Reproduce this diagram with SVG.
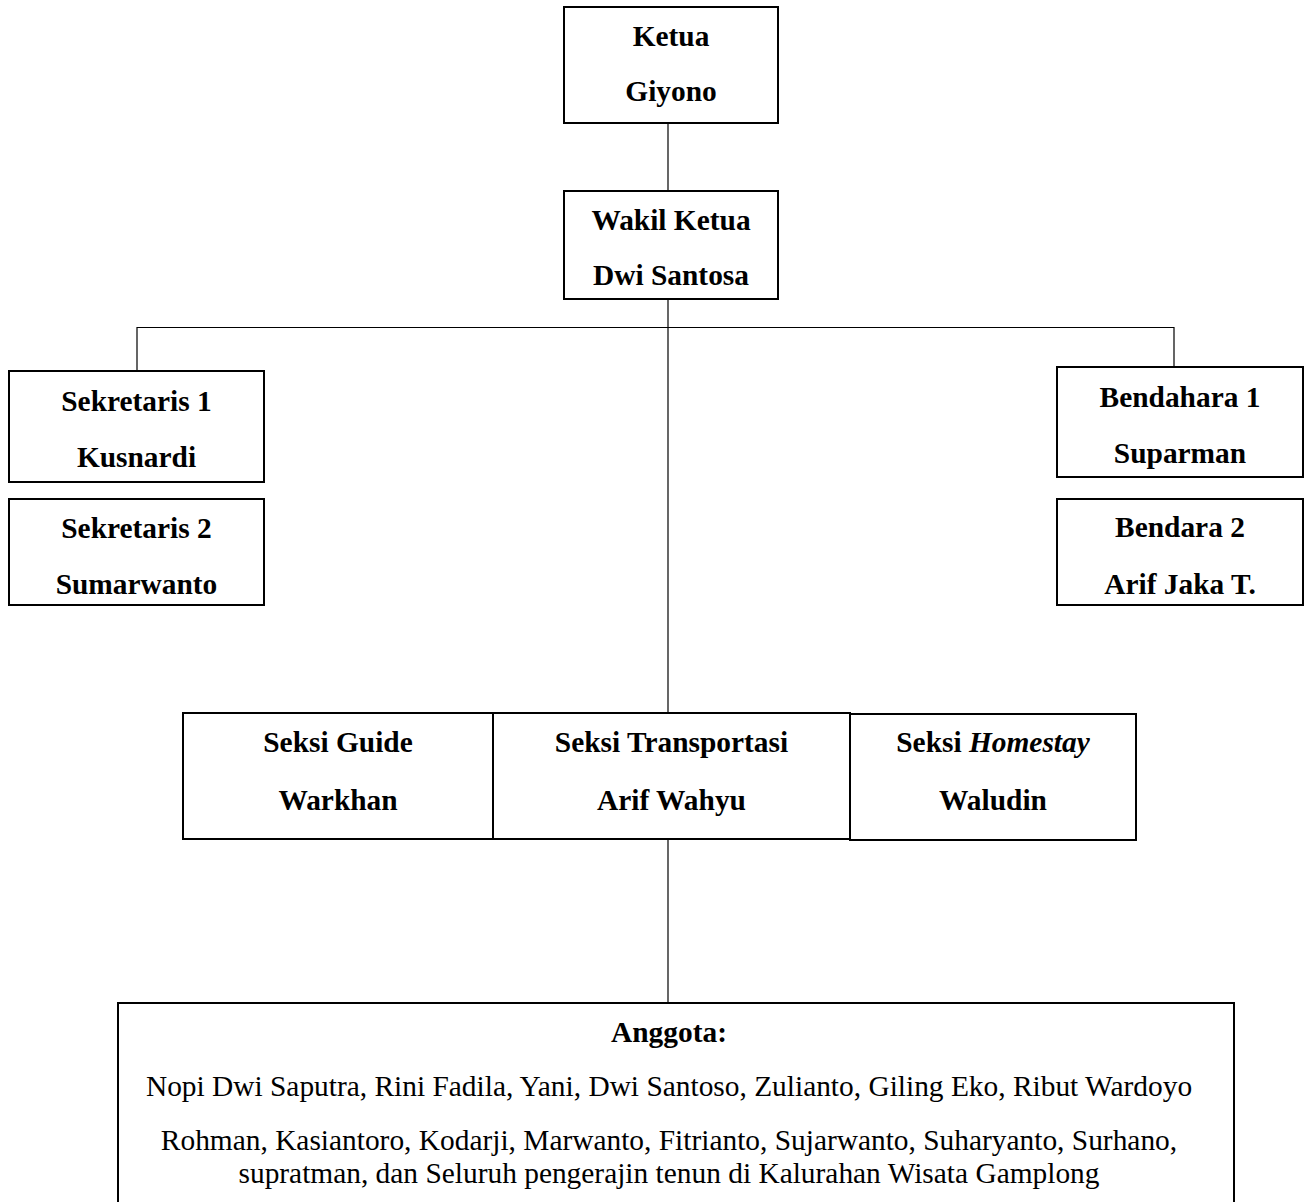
<svg xmlns="http://www.w3.org/2000/svg" width="1311" height="1202" viewBox="0 0 1311 1202">
<style>
.box{fill:#fff;stroke:#000;stroke-width:2}
.ln{stroke:#000;stroke-width:1.2;fill:none}
text{font-family:"Liberation Serif","Times New Roman",serif;font-size:29.4px;fill:#000;text-anchor:middle}
.b{font-weight:bold}
</style>
<rect width="1311" height="1202" fill="#fff"/>
<g id="connectors">
<line class="ln" x1="668" y1="123" x2="668" y2="191"/>
<line class="ln" x1="668" y1="299" x2="668" y2="713"/>
<polyline class="ln" points="137,371 137,327.5 1174,327.5 1174,367"/>
<line class="ln" x1="668" y1="839" x2="668" y2="1003"/>
</g>
<g id="ketua">
<rect class="box" x="564" y="7" width="214" height="116"/>
<text class="b" x="671" y="46">Ketua</text>
<text class="b" x="671" y="101">Giyono</text>
</g>
<g id="wakil">
<rect class="box" x="564" y="191" width="214" height="108"/>
<text class="b" x="671" y="230">Wakil Ketua</text>
<text class="b" x="671" y="285">Dwi Santosa</text>
</g>
<g id="sekretaris1">
<rect class="box" x="9" y="371" width="255" height="111"/>
<text class="b" x="136.5" y="411">Sekretaris 1</text>
<text class="b" x="136.5" y="467">Kusnardi</text>
</g>
<g id="sekretaris2">
<rect class="box" x="9" y="499" width="255" height="106"/>
<text class="b" x="136.5" y="538">Sekretaris 2</text>
<text class="b" x="136.5" y="594">Sumarwanto</text>
</g>
<g id="bendahara1">
<rect class="box" x="1057" y="367" width="246" height="110"/>
<text class="b" x="1180" y="407">Bendahara 1</text>
<text class="b" x="1180" y="463">Suparman</text>
</g>
<g id="bendahara2">
<rect class="box" x="1057" y="499" width="246" height="106"/>
<text class="b" x="1180" y="537">Bendara 2</text>
<text class="b" x="1180" y="594">Arif Jaka T.</text>
</g>
<g id="seksi-guide">
<rect class="box" x="183" y="713" width="310" height="126"/>
<text class="b" x="338" y="752">Seksi Guide</text>
<text class="b" x="338" y="810">Warkhan</text>
</g>
<g id="seksi-transportasi">
<rect class="box" x="493" y="713" width="357" height="126"/>
<text class="b" x="671.5" y="752">Seksi Transportasi</text>
<text class="b" x="671.5" y="810">Arif Wahyu</text>
</g>
<g id="seksi-homestay">
<rect class="box" x="850" y="714" width="286" height="126"/>
<text class="b" x="993" y="752">Seksi <tspan font-style="italic">Homestay</tspan></text>
<text class="b" x="993" y="810">Waludin</text>
</g>
<g id="anggota">
<rect class="box" x="118" y="1003" width="1116" height="220"/>
<text class="b" x="669" y="1042">Anggota:</text>
<text x="669" y="1096">Nopi Dwi Saputra, Rini Fadila, Yani, Dwi Santoso, Zulianto, Giling Eko, Ribut Wardoyo</text>
<text x="669" y="1150">Rohman, Kasiantoro, Kodarji, Marwanto, Fitrianto, Sujarwanto, Suharyanto, Surhano,</text>
<text x="669" y="1183">supratman, dan Seluruh pengerajin tenun di Kalurahan Wisata Gamplong</text>
</g>
</svg>
